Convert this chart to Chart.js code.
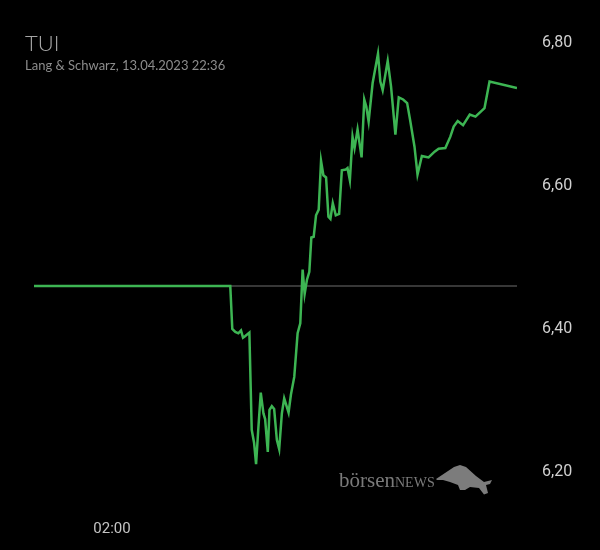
<!DOCTYPE html>
<html>
<head>
<meta charset="utf-8">
<script src="https://cdn.jsdelivr.net/npm/chart.js@4"></script>
<style>
  html, body { margin: 0; padding: 0; background: #000; }
  .wrap { position: relative; width: 600px; height: 550px; background: #000; }
  .title { position: absolute; left: 25px; top: 29px; font: 300 22px Lato, sans-serif; color: #a6a6a6; }
  .sub { position: absolute; left: 25px; top: 57px; font: 13px Lato, sans-serif; color: #8c8c8c; }
  .brand { position: absolute; left: 339px; top: 468px; font: 21px "Liberation Serif", serif; color: #7a7a7a; }
  .brand span { font-size: 14px; }
  .bull { position: absolute; left: 436px; top: 463px; }
</style>
</head>
<body>
<div class="wrap">
  <canvas id="chart"></canvas>
  <div class="title">TUI</div>
  <div class="sub">Lang &amp; Schwarz, 13.04.2023 22:36</div>
  <div class="brand">börsen<span>NEWS</span></div>
  <svg class="bull" width="58" height="33" viewBox="0 0 58 33">
    <polygon fill="#7c7c7c" points="0,16 9,10 18,4 24,2 30,4 40,13 48,19 56,17 54,21 50,22 52,30 48,31.5 43,25 34,24 29,27 24,27 22,22 14,19 7,17 1,17"/>
  </svg>
</div>
<script>
// Kursverlauf TUI, Lang & Schwarz (Zeit, Kurs)
const times = ['22:07', '07:53', '07:59', '08:08', '08:17', '08:25', '08:31', '08:37', '08:50', '08:57',
  '09:04', '09:10', '09:17', '09:24', '09:32', '09:37', '09:45', '09:50', '09:57', '10:04',
  '10:12', '10:19', '10:27', '10:34', '10:47', '10:54', '11:04', '11:14', '11:22', '11:29',
  '11:35', '11:42', '11:49', '11:55', '12:02', '12:09', '12:17', '12:24', '12:31', '12:39',
  '12:46', '12:52', '12:59', '13:08', '13:18', '13:26', '13:38', '13:43', '13:50', '13:58',
  '14:04', '14:13', '14:25', '14:33', '14:39', '14:46', '14:58', '15:14', '15:21', '15:28',
  '15:43', '15:53', '16:06', '16:16', '16:29', '16:41', '16:50', '17:03', '17:12', '17:25',
  '17:35', '17:45', '18:03', '18:15', '18:35', '18:50', '19:00', '19:12', '19:28', '19:48',
  '20:05', '20:32', '20:47', '22:09'];
const prices = [6.460, 6.460, 6.400, 6.396, 6.394, 6.398, 6.388, 6.390, 6.395, 6.259,
  6.241, 6.211, 6.263, 6.311, 6.282, 6.274, 6.228, 6.287, 6.292, 6.288,
  6.245, 6.232, 6.282, 6.303, 6.283, 6.308, 6.333, 6.394, 6.408, 6.483,
  6.449, 6.469, 6.480, 6.528, 6.529, 6.559, 6.567, 6.635, 6.615, 6.612,
  6.557, 6.554, 6.576, 6.559, 6.561, 6.622, 6.623, 6.625, 6.608, 6.669,
  6.653, 6.679, 6.640, 6.721, 6.711, 6.690, 6.744, 6.785, 6.746, 6.734,
  6.775, 6.739, 6.672, 6.724, 6.721, 6.716, 6.692, 6.655, 6.616, 6.642,
  6.641, 6.640, 6.648, 6.652, 6.653, 6.669, 6.683, 6.691, 6.685, 6.700,
  6.697, 6.709, 6.746, 6.737];
const prevClose = 6.46;
const yTickValues = [6.2, 6.4, 6.6, 6.8];
const yTickLabels = ['6,20', '6,40', '6,60', '6,80'];
const xTickValues = [26];
const xTickLabels = ['02:00'];

// Uhrzeit -> Stunden, nach Mitternacht +24
let dayOffset = 0, last = -1;
const hours = times.map(t => {
  const [h, m] = t.split(':').map(Number);
  let v = h + m / 60;
  if (v < last) dayOffset = 24;
  last = v;
  return v + dayOffset;
});
const points = hours.map((x, i) => ({ x: x, y: prices[i] }));
const xMin = hours[0], xMax = hours[hours.length - 1];

const canvas = document.getElementById('chart');
canvas.width = 600; canvas.height = 550;

new Chart(canvas, {
  type: 'line',
  data: {
    datasets: [
      { data: points, borderColor: '#3db553', borderWidth: 2.5, pointRadius: 0, tension: 0, order: 1 },
      { data: [{ x: xMin, y: prevClose }, { x: xMax, y: prevClose }], borderColor: '#4a4a4a', borderWidth: 1.5, pointRadius: 0, order: 2 }
    ]
  },
  options: {
    responsive: false,
    animation: false,
    layout: { padding: { left: 34, top: 28.7, right: 0, bottom: 0 } },
    plugins: { legend: { display: false }, tooltip: { enabled: false } },
    scales: {
      x: {
        type: 'linear', min: xMin, max: xMax,
        grid: { display: false, drawTicks: false }, border: { display: false },
        afterBuildTicks: s => { s.ticks = xTickValues.map(v => ({ value: v })); },
        afterFit: s => { s.height = 550 - 28.7 - 457.6; s.paddingLeft = 0; s.paddingRight = 0; },
        ticks: {
          padding: 34, color: '#c4c4c4', font: { family: 'Roboto', size: 15 },
          maxRotation: 0, autoSkip: false,
          callback: v => xTickLabels[xTickValues.indexOf(v)]
        }
      },
      y: {
        position: 'right', min: 6.18, max: 6.82,
        grid: { display: false, drawTicks: false }, border: { display: false },
        afterBuildTicks: s => { s.ticks = yTickValues.map(v => ({ value: v })); },
        afterFit: s => { s.width = 83; s.paddingTop = 0; s.paddingBottom = 0; },
        ticks: {
          padding: 25, color: '#d0d0d0', font: { family: 'Roboto', size: 16 },
          callback: v => yTickLabels[yTickValues.indexOf(v)]
        }
      }
    }
  }
});
</script>
</body>
</html>
